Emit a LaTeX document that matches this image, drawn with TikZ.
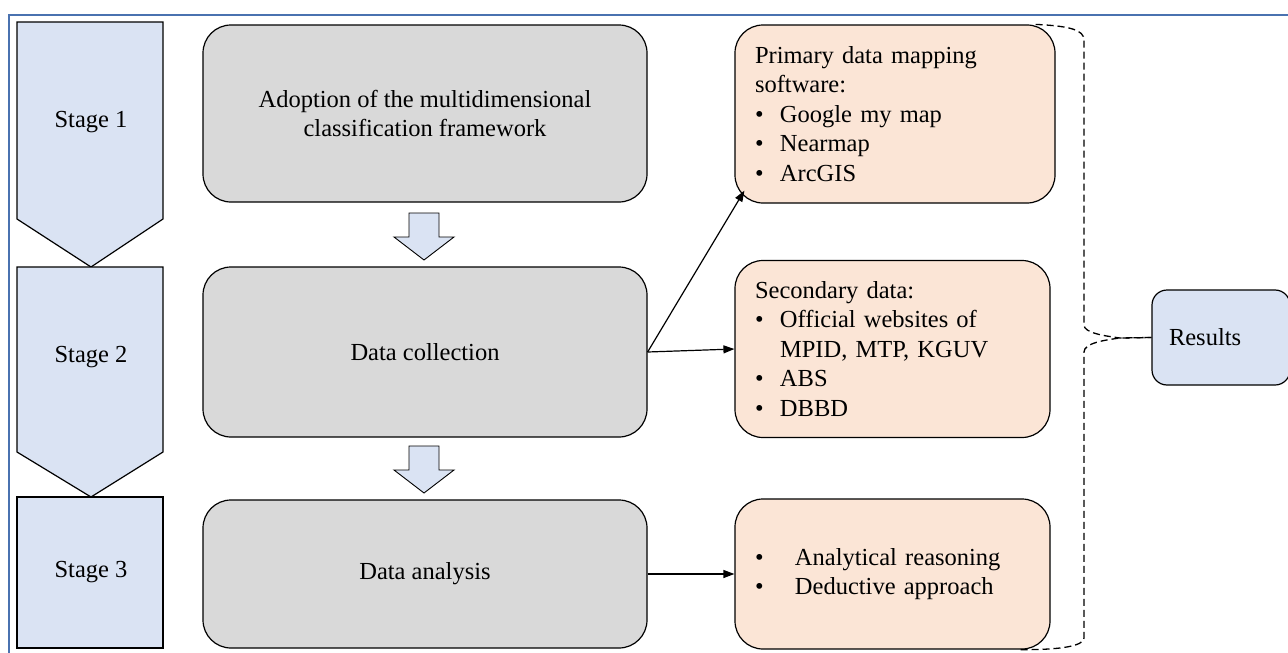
\documentclass[tikz,border=0pt]{standalone}
\usepackage{fontspec}
\setmainfont{Liberation Serif}
\usepackage{tikz}
\usetikzlibrary{arrows.meta}
\usetikzlibrary{backgrounds}

\definecolor{stageblue}{HTML}{DAE3F3}
\definecolor{boxgray}{HTML}{D9D9D9}
\definecolor{boxpeach}{HTML}{FBE5D6}
\definecolor{frameblue}{HTML}{4A72B0}

\newcommand{\bul}{\makebox[25pt][l]{\textbullet}}
\newcommand{\bulwide}{\makebox[40pt][l]{\textbullet}}

\begin{document}
\begin{tikzpicture}[x=1pt,y=-1pt,font=\fontsize{24.5}{29.5}\selectfont]
		\useasboundingbox (0,0) rectangle (1288,653);
		\draw[frameblue,line width=1.3pt] (9,15) rectangle (1300,670);

		% stage chevrons
		\begin{scope}[fill=stageblue,draw=black,line width=1.2pt]
			\filldraw (17,22) -- (163,22) -- (163,219) -- (91,267) -- (17,219) -- cycle;
			\filldraw (17,267) -- (163,267) -- (163,452) -- (91,497) -- (17,452) -- cycle;
			\filldraw (17,497) rectangle (163,648);
		\end{scope}

		% block arrows between the steps
		\foreach \y in {0,233}
			\filldraw[fill=stageblue,draw=black,line width=0.9pt] (409,213+\y) -- (439,213+\y) -- (439,237+\y) -- (454,237+\y) -- (424,260+\y) -- (394,237+\y) -- (409,237+\y) -- cycle;

		\begin{scope}[every node/.style={inner sep=0pt}]
			\node (s1) at (91,122) {Stage 1};
			\node (s2) at (91,357) {Stage 2};
			\node (s3) at (91,572) {Stage 3};
		\end{scope}

		\begin{scope}[every node/.style={draw=black,line width=1.2pt,rounded corners=28pt}]
			\node[fill=boxgray,minimum width=444pt,minimum height=177pt,align=center] (adopt) at (425,113.5) {Adoption of the multidimensional\\classification framework};
			\node[fill=boxgray,minimum width=444pt,minimum height=170pt] (coll) at (425,352) {Data collection};
			\node[fill=boxgray,minimum width=444pt,minimum height=148pt] (anal) at (425,574) {Data analysis};

			\node[fill=boxpeach,text width=280pt,inner xsep=20pt,minimum height=178pt,align=left] (prim) at (895,114)
				{Primary data mapping\\software:\\\bul Google my map\\\bul Nearmap\\\bul ArcGIS};
			\node[fill=boxpeach,text width=275pt,inner xsep=20pt,minimum height=177pt,align=left] (sec) at (892.5,349)
				{Secondary data:\\\bul Official websites of\\\hspace*{25pt}MPID, MTP, KGUV\\\bul ABS\\\bul DBBD};
			\node[fill=boxpeach,text width=275pt,inner xsep=20pt,minimum height=150pt,align=left] (meth) at (892.5,574)
				{\bulwide Analytical reasoning\\\bulwide Deductive approach};

			\node[fill=stageblue,rounded corners=15pt,text width=104pt,inner xsep=17pt,minimum height=95pt,align=left] (res) at (1221,337.5) {Results};
		\end{scope}

		\begin{scope}[>={Triangle[length=11pt,width=8pt]},
		              every edge/.style={draw=black,line width=1.2pt,->}]
			\path (coll.east) edge ([xshift=10pt,yshift=13pt]prim.south west);
			\path (coll.east) edge (sec.west);
			\path (anal.east) edge (meth.west);
		\end{scope}

		% dashed brace to the results
		\begin{scope}[line width=1.3pt,dash pattern=on 7pt off 4pt]
			\draw ([xshift=-20pt]prim.north east) .. controls (1070,26) and (1084,30) .. (1084,40) -- (1084,325)
				.. controls (1084,333) and (1105,336) .. (1120,338) -- (res.west);
			\draw (res.west) -- (1120,338) .. controls (1105,340) and (1084,343) .. (1084,352) -- (1084,638)
				.. controls (1084,646) and (1060,650) .. ([xshift=-30pt]meth.south east);
		\end{scope}
\end{tikzpicture}
\end{document}
